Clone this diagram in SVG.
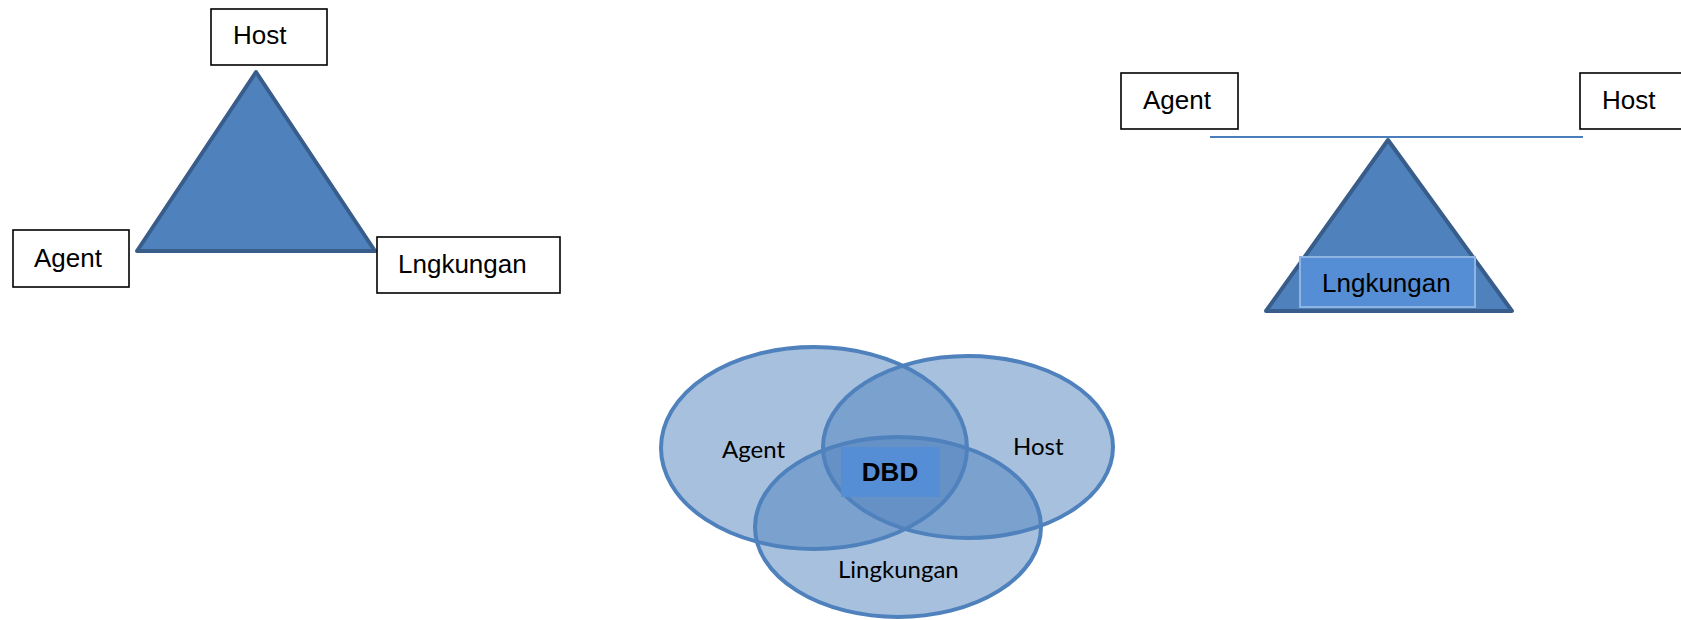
<svg xmlns="http://www.w3.org/2000/svg" width="1681" height="620" viewBox="0 0 1681 620">
<style>
.box{fill:#fff;stroke:#000;stroke-width:1.6}
.lbl{font-family:"Liberation Sans",Arial,sans-serif;font-size:26px;fill:#000}
.tri{fill:#4f81bd;stroke:#385d8a;stroke-width:4;stroke-linejoin:round}
.ell{fill:#4f81bd;fill-opacity:0.5;stroke:#4f81bd;stroke-width:4}
.vl{font-family:Lato,"Open Sans",sans-serif;font-size:24px;fill:#000}
</style>
<rect width="1681" height="620" fill="#fff"/>
<g id="triangle-left">
<polygon class="tri" points="256,72 375,251 137,251"/>
</g>
<g id="left-host"><rect class="box" x="211" y="9" width="116" height="56"/><text class="lbl" x="233" y="44">Host</text></g>
<g id="left-agent"><rect class="box" x="13" y="230" width="116" height="57"/><text class="lbl" x="34" y="267">Agent</text></g>
<g id="left-lingkungan"><rect class="box" x="377" y="237" width="183" height="56"/><text class="lbl" x="398" y="273">Lngkungan</text></g>

<g id="connectors"><line x1="1210" y1="137" x2="1583" y2="137" stroke="#4a7ebb" stroke-width="1.8"/></g>
<g id="triangle-right">
<polygon class="tri" points="1388,140 1512,311 1266,311"/>
</g>
<g id="right-lingkungan"><rect x="1300" y="257" width="175" height="50" fill="#558ed5" stroke="#8eb4e3" stroke-width="2"/><text class="lbl" x="1322" y="292">Lngkungan</text></g>
<g id="right-agent"><rect class="box" x="1121" y="73" width="117" height="56"/><text class="lbl" x="1143" y="109">Agent</text></g>
<g id="right-host"><rect class="box" x="1580" y="73" width="110" height="56"/><text class="lbl" x="1602" y="109">Host</text></g>

<g id="venn-agent"><ellipse class="ell" cx="814" cy="448" rx="153" ry="101"/></g>
<g id="venn-host"><ellipse class="ell" cx="968" cy="447" rx="145" ry="91"/></g>
<g id="venn-lingkungan"><ellipse class="ell" cx="898" cy="527" rx="143" ry="90"/></g>
<g id="venn-labels">
<text class="vl" x="722" y="458">Agent</text>
<text class="vl" x="1013" y="455">Host</text>
<text class="vl" x="838" y="578">Lingkungan</text>
</g>
<g id="dbd"><rect x="841" y="447" width="99" height="50" fill="#558ed5"/><text x="890" y="481" text-anchor="middle" font-family="Liberation Sans,Arial,sans-serif" font-weight="bold" font-size="26" fill="#000">DBD</text></g>
</svg>
